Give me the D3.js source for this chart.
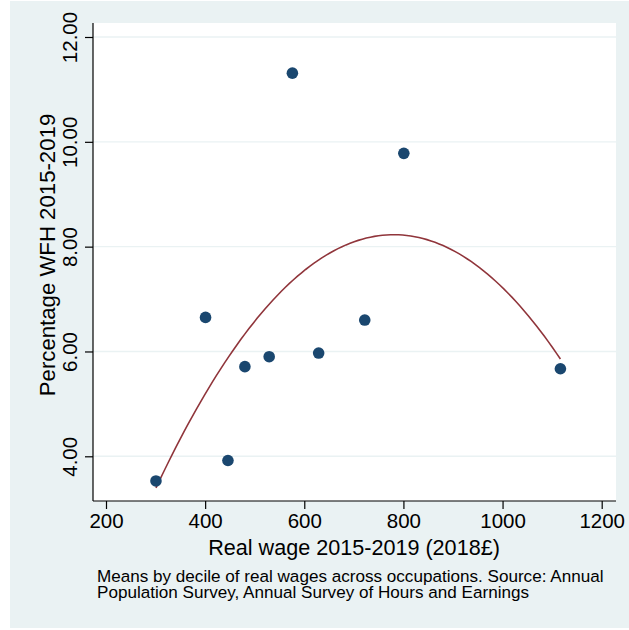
<!DOCTYPE html>
<html><head><meta charset="utf-8">
<script src="https://cdn.jsdelivr.net/npm/d3@7"></script>
<style>body{margin:0;background:#fff}svg{display:block}text{font-family:"Liberation Sans",Arial,sans-serif;fill:#000}</style>
</head><body><svg id="c" width="629" height="630"></svg>
<script>
const wage = [300.8, 400.8, 446, 480.2, 529.2, 576, 629, 722, 800.8, 1116.7];
const wfh  = [3.53, 6.65, 3.92, 5.71, 5.90, 11.31, 5.97, 6.60, 9.78, 5.67];
const xTicks = [200, 400, 600, 800, 1000, 1200];
const yTicks = [4, 6, 8, 10, 12];
const xTitle = "Real wage 2015-2019 (2018£)";
const yTitle = "Percentage WFH 2015-2019";
const note = ["Means by decile of real wages across occupations. Source: Annual",
              "Population Survey, Annual Survey of Hours and Earnings"];

const svg = d3.select("#c");
const L = 93, R = 616, T = 23, B = 501;
const x = d3.scaleLinear().domain([200, 1200]).range([106, 601.7]);
const y = d3.scaleLinear().domain([4, 12]).range([456.3, 37]);

svg.append("rect").attr("x",10).attr("y",1).attr("width",619).attr("height",627).attr("fill","#eaf2f3");
svg.append("rect").attr("x",L).attr("y",T).attr("width",R-L).attr("height",B-T).attr("fill","#fff");

// grid
svg.append("g").selectAll("line").data(yTicks).join("line")
  .attr("x1",L).attr("x2",R).attr("y1",d=>y(d)).attr("y2",d=>y(d))
  .attr("stroke","#eaf2f3").attr("stroke-width",1.4);

// quadratic fit (least squares from data)
function qfit(xs, ys){
  const n = xs.length; let S=[0,0,0,0,0], T2=[0,0,0];
  for(let i=0;i<n;i++){const a=xs[i],b=ys[i];
    for(let k=0;k<5;k++) S[k]+=Math.pow(a,k);
    for(let k=0;k<3;k++) T2[k]+=b*Math.pow(a,k);}
  const M=[[S[0],S[1],S[2],T2[0]],[S[1],S[2],S[3],T2[1]],[S[2],S[3],S[4],T2[2]]];
  for(let i=0;i<3;i++){let p=M[i][i];for(let j=i;j<4;j++)M[i][j]/=p;
    for(let r=0;r<3;r++) if(r!==i){const f=M[r][i];for(let j=i;j<4;j++)M[r][j]-=f*M[i][j];}}
  return [M[0][3],M[1][3],M[2][3]];
}
const c = qfit(wage, wfh);
const xmin = d3.min(wage), xmax = d3.max(wage);
const fitPts = d3.range(0,101).map(i=>{const v=xmin+(xmax-xmin)*i/100;return [v,c[0]+c[1]*v+c[2]*v*v];});
svg.append("path").datum(fitPts)
  .attr("d", d3.line().x(d=>x(d[0])).y(d=>y(d[1])))
  .attr("fill","none").attr("stroke","#90353b").attr("stroke-width",1.6);

// points
svg.append("g").selectAll("circle").data(wage.map((w,i)=>[w,wfh[i]])).join("circle")
  .attr("cx",d=>x(d[0])).attr("cy",d=>y(d[1])).attr("r",5.8).attr("fill","#1a476f");

// axes
const xa = svg.append("g").attr("transform",`translate(0,${B})`)
  .call(d3.axisBottom(x).tickValues(xTicks).tickSize(8).tickPadding(4).tickFormat(d3.format("d")));
xa.select(".domain").attr("d",`M${L},0H${R}`).attr("stroke","#000").attr("stroke-width",1.2);
xa.selectAll(".tick line").attr("stroke","#000").attr("stroke-width",1.2);
xa.selectAll(".tick text").attr("font-size",20.5).attr("font-family","Liberation Sans, Arial, sans-serif");

const ya = svg.append("g").attr("transform",`translate(${L},0)`)
  .call(d3.axisLeft(y).tickValues(yTicks).tickSize(8).tickFormat(d3.format(".2f")));
ya.select(".domain").attr("d",`M0,${T}V${B}`).attr("stroke","#000").attr("stroke-width",1.2);
ya.selectAll(".tick line").attr("stroke","#000").attr("stroke-width",1.2);
ya.selectAll(".tick text").attr("font-size",20.5).attr("font-family","Liberation Sans, Arial, sans-serif")
  .attr("x",0).attr("dy",0).attr("text-anchor","middle")
  .attr("transform","translate(-16.5,0) rotate(-90)");

// titles
svg.append("text").attr("x",354).attr("y",555).attr("text-anchor","middle")
  .attr("font-size",21.6).text(xTitle);
svg.append("text").attr("transform",`translate(55,255) rotate(-90)`).attr("text-anchor","middle")
  .attr("font-size",22.2).text(yTitle);
svg.append("g").selectAll("text").data(note).join("text")
  .attr("x",97).attr("y",(d,i)=>582.3+i*16).attr("font-size",17.1).text(d=>d);
</script></body></html>
